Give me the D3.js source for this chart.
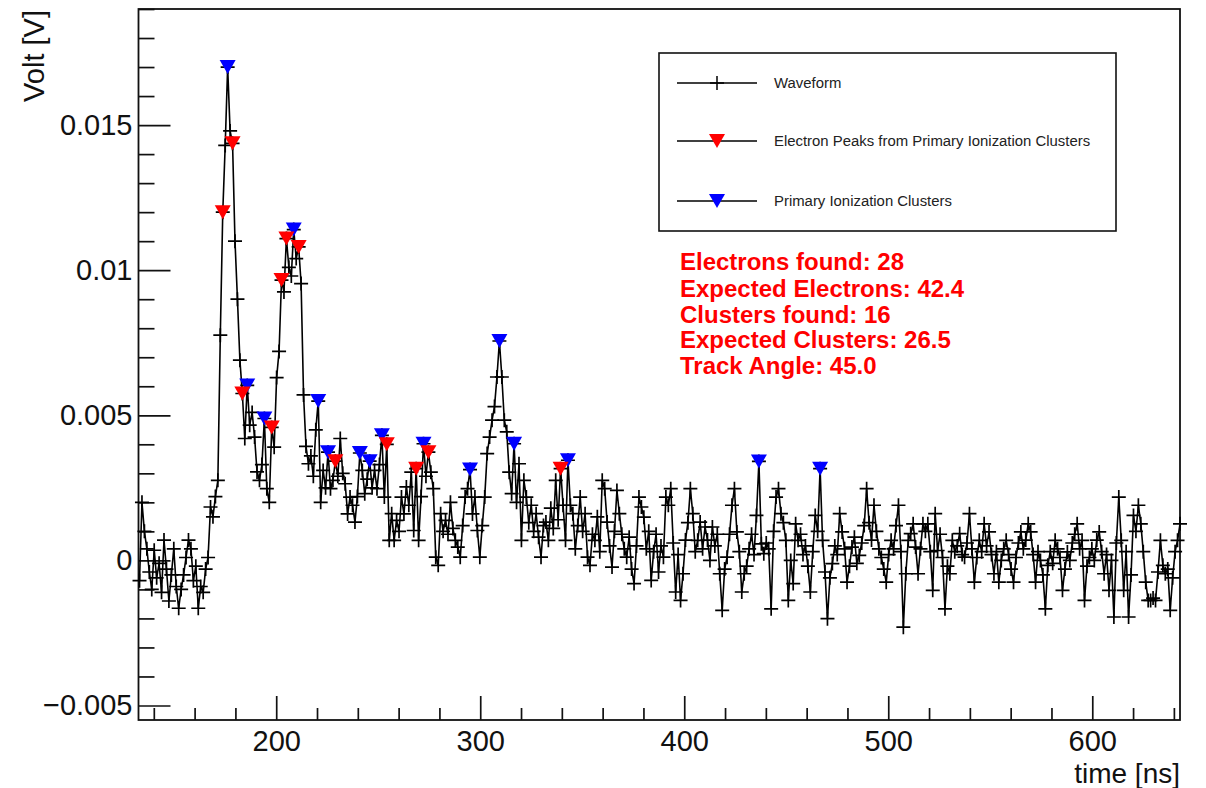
<!DOCTYPE html>
<html>
<head>
<meta charset="utf-8">
<script src="https://cdn.jsdelivr.net/npm/d3@7"></script>
<style>
  html, body { margin: 0; padding: 0; background: #fff; }
  svg { display: block; font-family: "Liberation Sans", Arial, Helvetica, sans-serif; }
</style>
</head>
<body>
<svg id="chart" width="1206" height="788"></svg>
<script>
// Digitizer time base
const sampleStart = 133;   // ns, first sample
const samplePeriod = 1.2;  // ns between samples

// Recorded waveform amplitude for each sample [V]
const waveformVolts = [
  -0.0007, 0.002, 0.001, 0.0004, -0.0004, -0.001, 0.00035, -0.0006, -0.0001, -0.0011,
  0.0007, -0.0003, -0.0014, -0.0005, 0.0004, -0.0009, -0.00165, -0.001, -0.0005, 0.0001,
  0.0007, 0.0004, -0.0007, -0.0002, -0.00165, -0.0009, -0.0011, -0.0003, 0.0001, 0.00184,
  0.0015, 0.0022, 0.00276, 0.00776, 0.012, 0.0143, 0.017, 0.0148, 0.01437, 0.011,
  0.009, 0.0069, 0.00575, 0.0042, 0.00603, 0.00466, 0.0051, 0.00425, 0.00305, 0.00276,
  0.0033, 0.00489, 0.00247, 0.002, 0.00458, 0.0039, 0.0063, 0.0072, 0.00966, 0.00925,
  0.01109, 0.0101, 0.0098, 0.0114, 0.0104, 0.0108, 0.00954, 0.0057, 0.00393, 0.00333,
  0.0036, 0.0029, 0.0045, 0.00549, 0.002, 0.0031, 0.0025, 0.00373, 0.00247, 0.00276,
  0.00342, 0.0029, 0.0042, 0.003, 0.00264, 0.0016, 0.00218, 0.0019, 0.00132, 0.0022,
  0.0037, 0.0031, 0.0023, 0.0028, 0.00342, 0.0025, 0.0031, 0.00247, 0.0033, 0.00431,
  0.00218, 0.004, 0.00069, 0.00161, 0.00069, 0.00138, 0.001, 0.00218, 0.0016, 0.00253,
  0.0019, 0.00304, 0.00103, 0.00316, 0.00069, 0.0022, 0.00402, 0.0029, 0.00373, 0.00304,
  0.00247, 0.00011, -0.00017, 0.00161, 0.001, 0.00138, 0.0009, 0.002, 0.0011, 0.00069,
  0.00046, 0.00011, 0.0012, 0.00218, 0.00247, 0.00313, 0.0016, 0.00218, 0.00103, 0.00011,
  0.0012, 0.00218, 0.00368, 0.00425, 0.00483, 0.0053, 0.00632, 0.00756, 0.00632, 0.00483,
  0.00443, 0.00304, 0.0023, 0.00402, 0.002, 0.00333, 0.00069, 0.00276, 0.00218, 0.0013,
  0.0019, 0.001, 0.00161, 0.0008, 0.00011, 0.0012, 0.00132, 0.00069, 0.0018, 0.0011,
  0.00276, 0.0014, 0.00316, 0.0019, 0.00069, 0.00345, 0.0019, 0.00161, 0.0004, 0.0012,
  0.00218, 0.001, 0.00161, 0.00011, -0.00017, 0.0009, 0.00069, 0.0015, 0.0003, 0.00276,
  0.00247, 0.00132, 0.0005, -0.00023, 0.001, 0.00241, 0.00161, 0.0009, 0.0004, 0.00011,
  0.0008, -0.0003, -0.0008, 0.0005, 0.00218, 0.00184, 0.00149, 0.0004, 0.001, -0.00069,
  0.0003, 0.0009, -0.0004, 0.0005, 0.00011, 0.00218, 0.0019, 0.00247, 0.0006, -0.00109,
  0.0002, -0.00138, -0.00046, 0.0007, 0.0013, 0.00247, 0.00161, 0.0003, 0.00069, 0.00132,
  0.0004, 0.00115, 0.0007, 0, 0.00115, 0.0005, 0.0009, -0.00046, -0.00172, -0.0003,
  0.00011, 0.0009, 0.0019, 0.00247, 0.00098, 0.0003, -0.00109, -0.00046, -0.0002, 0.0004,
  0.0009, 0.0002, 0.00155, 0.00341, 0.00057, 0.00023, 0.0006, 0.0004, -0.00167, 0.001,
  0.00218, 0.00247, 0.00161, 0.0013, 0.00069, -0.00138, 0, -0.0008, 0.00126, 0.00069,
  0.0009, 0.0002, 0.0005, -0.0002, -0.00109, 0.0003, 0.00155, 0.001, 0.00316, 0.00069,
  -0.0004, -0.00201, -0.0006, -0.00011, 0.0005, 0.0002, 0.00161, 0.00098, 0.0004, -0.00075,
  -0.0002, 0.00046, 0.0008, -0.0001, 0.00017, 0.0006, 0.0012, 0.00247, 0.0013, 0.0007,
  0.0019, 0.001, 0.0004, 0.0001, -0.0003, -0.00075, 0.0002, 0.00069, 0.0004, 0.0012,
  0.0019, 0.0003, -0.0023, -0.00046, 0.00069, 0.00092, 0.00126, 0.00046, -0.00046, 0.0004,
  0.00126, 0.001, 0.00126, 0.0003, -0.00103, 0.00161, 0.00034, 0.0009, 0.0001, -0.00167,
  -0.0002, -0.00046, 0.00069, 0.0003, 0.0005, 0.00092, 0.0002, 0.00011, 0.0006, 0.00161,
  0.0004, -0.00075, 0.0001, 0.00069, 0.0003, 0.00126, 0.0005, 0.00098, 0.0002, -0.00046,
  0.0003, -0.00075, 0, 0.0004, 0.00069, 0.0002, -0.0003, -0.00075, 0.0001, 0.0006,
  0.00098, 0.0004, 0.0007, 0.00126, 0.00098, 0.0002, -0.00075, 0.0003, 0, -0.0005,
  -0.00167, -0.00017, 0.0003, -0.0001, 0.00069, 0.0004, 0.0001, -0.00103, -0.0003, 0.00029,
  0, 0.0006, 0.0009, 0.00126, 0.0004, 0.00069, -0.00138, -0.0002, 0.0001, 0.0004,
  0, 0.0007, 0.00098, 0.0003, -0.00046, 0.0002, -0.00103, 0, -0.00195, 0.0006,
  0.00218, 0.00069, -0.00103, 0.0003, -0.00195, -0.0005, 0.00155, 0.001, 0.0019, 0.00126,
  0.0003, -0.00075, -0.00138, -0.00138, -0.0013, -0.00138, -0.0004, 0.00069, -0.00017, -0.00046,
  -0.0003, -0.00172, -0.0006, 0.0003, 0.00069, 0.00126
];

// Primary ionization clusters found by the peak finder
const clusterTimes = [176.2, 185.8, 194.2, 208.6, 220.6, 225.4, 241.0, 245.8, 251.8, 272.2, 295.0, 309.4, 316.6, 343.0, 436.6, 466.6];
const clusterVolts = [0.017, 0.00603, 0.00489, 0.0114, 0.00549, 0.00373, 0.0037, 0.00342, 0.00431, 0.00402, 0.00313, 0.00756, 0.00402, 0.00345, 0.00341, 0.00316];

// Further electron peaks belonging to those clusters
const electronTimes = [173.8, 178.6, 183.4, 197.8, 202.6, 205.0, 211.0, 229.0, 254.2, 268.6, 274.6, 339.4];
const electronVolts = [0.012, 0.01437, 0.00575, 0.00458, 0.00966, 0.01109, 0.0108, 0.00342, 0.004, 0.00316, 0.00373, 0.00316];

// Axes
const xDomain = [132.5, 643];
const yDomain = [-0.0055, 0.019];
const xTickValues = [200, 300, 400, 500, 600];
const xTickLabels = ["200", "300", "400", "500", "600"];
const yTickValues = [-0.005, 0, 0.005, 0.01, 0.015];
const yTickLabels = ["\u22120.005", "0", "0.005", "0.01", "0.015"];
const xTitle = "time [ns]";
const yTitle = "Volt [V]";

// Legend and summary box
const legendLabels = ["Waveform", "Electron Peaks from Primary Ionization Clusters", "Primary Ionization Clusters"];
const summaryLines = [
  "Electrons found: 28",
  "Expected Electrons: 42.4",
  "Clusters found: 16",
  "Expected Clusters: 26.5",
  "Track Angle: 45.0"
];

const RED = "#ff0000";
const BLUE = "#0000ff";
const INK = "#111";
const AXIS_FONT = 29;
const TITLE_FONT = 28;

const frame = { left: 138.5, right: 1180, top: 9, bottom: 720 };

const svg = d3.select("#chart");
svg.append("rect").attr("width", 1206).attr("height", 788).attr("fill", "#fff");

const x = d3.scaleLinear().domain(xDomain).range([frame.left, frame.right]);
const y = d3.scaleLinear().domain(yDomain).range([frame.bottom, frame.top]);

const waveform = waveformVolts.map((v, i) => ({ t: sampleStart + samplePeriod * i, v }));
const clusters = clusterTimes.map((t, i) => ({ t, v: clusterVolts[i] }));
const electrons = electronTimes.map((t, i) => ({ t, v: electronVolts[i] }));

// ---- axes (ticks pointing into the frame) ----
const xMinor = d3.range(140, 643, 20).filter(t => t % 100 !== 0);
const yMinor = d3.range(-5, 20, 1).map(k => k / 1000).filter(v => Math.abs(Math.round(v * 1000) % 5) !== 0);

const gx = svg.append("g").attr("transform", `translate(0,${frame.bottom})`);
gx.call(d3.axisBottom(x).tickValues(xMinor).tickSizeInner(-12).tickSizeOuter(0).tickFormat(""));
gx.call(g => g.select(".domain").remove());
const gxMajor = svg.append("g").attr("transform", `translate(0,${frame.bottom})`)
  .call(d3.axisBottom(x).tickValues(xTickValues).tickSizeInner(-24).tickSizeOuter(0)
    .tickPadding(10).tickFormat((d, i) => xTickLabels[i]));
gxMajor.select(".domain").remove();

const gy = svg.append("g").attr("transform", `translate(${frame.left},0)`);
gy.call(d3.axisLeft(y).tickValues(yMinor).tickSizeInner(-16).tickSizeOuter(0).tickFormat(""));
gy.call(g => g.select(".domain").remove());
const gyMajor = svg.append("g").attr("transform", `translate(${frame.left},0)`)
  .call(d3.axisLeft(y).tickValues(yTickValues).tickSizeInner(-32).tickSizeOuter(0)
    .tickPadding(6).tickFormat((d, i) => yTickLabels[i]));
gyMajor.select(".domain").remove();

svg.selectAll(".tick line").attr("stroke", INK).attr("stroke-width", 1.7);
svg.selectAll(".tick text").attr("fill", INK).attr("font-size", AXIS_FONT)
  .attr("font-family", "\"Liberation Sans\", Arial, Helvetica, sans-serif");

// frame
svg.append("rect")
  .attr("x", frame.left).attr("y", frame.top)
  .attr("width", frame.right - frame.left).attr("height", frame.bottom - frame.top)
  .attr("fill", "none").attr("stroke", INK).attr("stroke-width", 1.8);

// axis titles
svg.append("text")
  .attr("x", frame.right).attr("y", 783)
  .attr("text-anchor", "end").attr("font-size", TITLE_FONT).attr("fill", INK)
  .text(xTitle);
svg.append("text")
  .attr("transform", "translate(44,10) rotate(-90)")
  .attr("text-anchor", "end").attr("font-size", AXIS_FONT).attr("fill", INK)
  .text(yTitle);

// ---- waveform ----
const plot = svg.append("g");
const line = d3.line().x(d => x(d.t)).y(d => y(d.v));
plot.append("path")
  .datum(waveform)
  .attr("d", line)
  .attr("fill", "none").attr("stroke", "#000").attr("stroke-width", 1.6)
  .attr("stroke-linejoin", "miter");

const crossPath = "M-7,0H7M0,-7V7";
plot.append("g").selectAll("path")
  .data(waveform)
  .join("path")
  .attr("transform", d => `translate(${x(d.t)},${y(d.v)})`)
  .attr("d", crossPath)
  .attr("fill", "none").attr("stroke", "#000").attr("stroke-width", 1.7);

// ---- peak markers (downward triangles) ----
const triPath = "M-8,-7L8,-7L0,7Z";
plot.append("g").selectAll("path")
  .data(clusters)
  .join("path")
  .attr("transform", d => `translate(${x(d.t)},${y(d.v)})`)
  .attr("d", triPath)
  .attr("fill", BLUE);
plot.append("g").selectAll("path")
  .data(electrons)
  .join("path")
  .attr("transform", d => `translate(${x(d.t)},${y(d.v)})`)
  .attr("d", triPath)
  .attr("fill", RED);

// ---- legend ----
const legend = svg.append("g");
legend.append("rect")
  .attr("x", 659).attr("y", 53).attr("width", 457).attr("height", 178)
  .attr("fill", "#fff").attr("stroke", INK).attr("stroke-width", 1.6);
const rowY = [83, 141, 201];
const rowMarker = [crossPath, triPath, triPath];
const rowColor = ["#000", RED, BLUE];
legendLabels.forEach((label, i) => {
  legend.append("line")
    .attr("x1", 677).attr("x2", 757).attr("y1", rowY[i]).attr("y2", rowY[i])
    .attr("stroke", "#000").attr("stroke-width", 1.4);
  const m = legend.append("path")
    .attr("transform", `translate(717,${rowY[i]})`)
    .attr("d", rowMarker[i]);
  if (i === 0) m.attr("fill", "none").attr("stroke", "#000").attr("stroke-width", 1.5);
  else m.attr("fill", rowColor[i]);
  legend.append("text")
    .attr("x", 774).attr("y", rowY[i]).attr("dy", "0.35em")
    .attr("font-size", 14.9).attr("fill", "#222")
    .text(label);
});

// ---- summary text ----
const summaryY = [270, 297, 323, 348, 374];
svg.append("g").selectAll("text")
  .data(summaryLines)
  .join("text")
  .attr("x", 680).attr("y", (d, i) => summaryY[i])
  .attr("font-size", 24).attr("font-weight", "bold").attr("fill", RED)
  .text(d => d);
</script>
</body>
</html>
